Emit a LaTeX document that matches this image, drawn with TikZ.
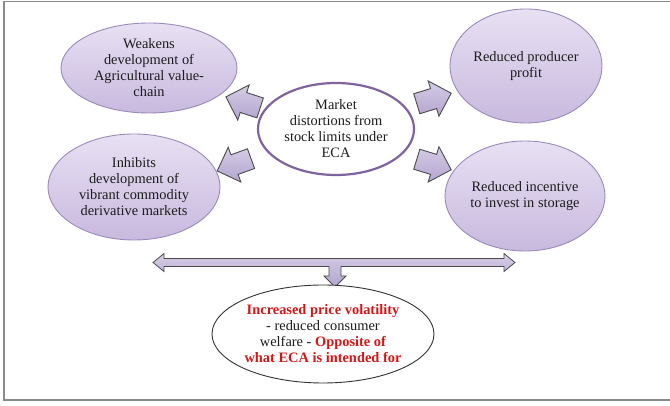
\documentclass[tikz,border=0pt]{standalone}
\usepackage{fontspec}
\setmainfont{Liberation Serif}
\usetikzlibrary{shapes.geometric,shapes.arrows}
\definecolor{lavtop}{HTML}{E8E0F3}
\definecolor{lavbot}{HTML}{C8B9DE}
\definecolor{lavline}{HTML}{9A8ABA}
\definecolor{cpurple}{HTML}{7F63A1}
\definecolor{arrfill}{HTML}{B3A4CF}
\definecolor{arrline}{HTML}{4A4A4A}
\definecolor{framegray}{HTML}{8A8A8A}
\definecolor{txt}{HTML}{1C1C1C}
\definecolor{redtxt}{HTML}{D01818}
\begin{document}
\begin{tikzpicture}[x=1pt,y=-1pt,
  every node/.style={font=\rmfamily\fontsize{14.4pt}{16pt}\selectfont, text=txt},
  lav/.style={ellipse, draw=lavline, line width=0.9pt, shading=axis,
    top color=lavtop, bottom color=lavbot, align=center, inner sep=0pt},
  blk/.style={single arrow, draw=arrline, line width=0.9pt, shading=axis,
    top color=arrfill!55!white, bottom color=arrfill, shading angle=0,
    minimum height=36pt, single arrow head extend=8pt, inner xsep=0pt,
    inner ysep=10pt, single arrow head indent=0pt}
]
\useasboundingbox (0,0) rectangle (670,406);
% frame
\draw[framegray, line width=1.6pt] (673,1.5) -- (4,1.5) -- (4,400) -- (673,400);

% ellipses
\node[lav, minimum width=176pt, minimum height=90pt] (tl) at (149,68)
  {Weakens\\development of\\Agricultural value-\\chain};
\node[lav, minimum width=172pt, minimum height=106pt] (bl) at (134,187)
  {Inhibits\\development of\\vibrant commodity\\derivative markets};
\node[lav, minimum width=152pt, minimum height=114pt] (tr) at (526,66)
  {Reduced producer\\profit};
\node[lav, minimum width=160pt, minimum height=110pt] (br) at (525,196)
  {Reduced incentive\\to invest in storage};
\node[ellipse, draw=cpurple, line width=2.2pt, fill=white, align=center,
  inner sep=0pt, minimum width=156pt, minimum height=92pt] (c) at (336,129)
  {Market\\distortions from\\stock limits under\\ECA};

% block arrows
\node[blk, rotate=162] (a1) at (248,104) {};
\node[blk, rotate=200] (a2) at (239,163) {};
\node[blk, rotate=17] (a3) at (429,100) {};
\node[blk, rotate=-17] (a4) at (429,163) {};

% combined double / down arrow
\coordinate (lt) at (153,262.5);
\coordinate (rt) at (515,262.5);
\coordinate (dt) at (335,287);
\draw[arrline, line width=0.8pt, shading=axis, top color=arrfill!55!white,
  bottom color=arrfill, line join=miter]
  (lt) -- (164,253.5) -- (164,258.5) -- (504,258.5) -- (504,253.5) -- (rt)
  -- (504,271.5) -- (504,266.5) -- (341,266.5) -- (341,276) -- (346,276)
  -- (dt) -- (324,276) -- (329,276) -- (329,266.5) -- (164,266.5)
  -- (164,271.5) -- cycle;

% bottom ellipse
\node[ellipse, draw=black!80, line width=0.9pt, fill=white, align=center,
  inner sep=0pt, minimum width=222pt, minimum height=98pt] (res) at (323,334)
  {\textcolor{redtxt}{\textbf{Increased price volatility}}\\
   - reduced consumer\\
   welfare - \textcolor{redtxt}{\textbf{Opposite of}}\\
   \textcolor{redtxt}{\textbf{what ECA is intended for}}};
\end{tikzpicture}
\end{document}
